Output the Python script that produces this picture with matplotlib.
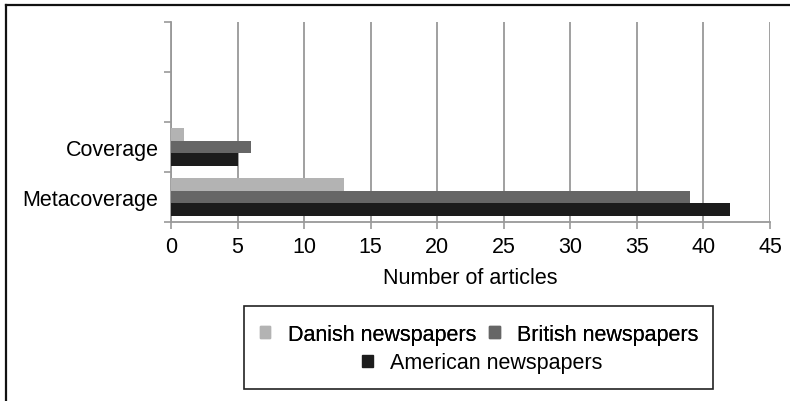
import matplotlib
matplotlib.use('Agg')
import matplotlib.pyplot as plt
from matplotlib.lines import Line2D
from matplotlib.patches import Rectangle, Patch

categories = ['Metacoverage', 'Coverage']
danish = [13, 1]
british = [39, 6]
american = [42, 5]
series_names = ['Danish newspapers', 'British newspapers', 'American newspapers']
colors = ['#b3b3b3', '#666666', '#1c1c1c']
x_ticks = list(range(0, 50, 5))

plt.rcParams['font.family'] = ['Liberation Sans', 'DejaVu Sans']
plt.rcParams['font.size'] = 15.5


def main():
    fig = plt.figure(figsize=(7.9, 4.02), dpi=100)
    ax = fig.add_axes([171 / 790, 1 - 223 / 402, (770 - 171) / 790, 200 / 402])

    bh = 0.25
    for i, vals in enumerate([danish, british, american]):
        ys = [k + 0.5 + (1 - i) * bh for k in range(len(categories))]
        ax.barh(ys, vals, height=bh, color=colors[i], label=series_names[i], zorder=3)

    ax.set_xlim(0, 45)
    ax.set_ylim(0, 4)
    ax.set_xticks(x_ticks)
    ax.set_yticks([0, 1, 2, 3, 4])
    ax.set_yticklabels([])
    ax.set_yticks([k + 0.5 for k in range(len(categories))], minor=True)
    ax.set_yticklabels(categories, minor=True)
    ax.tick_params(axis='y', which='minor', length=0, pad=14)
    ax.tick_params(axis='y', which='minor', pad=9)
    ax.tick_params(axis='y', which='major', length=5, width=1.2, color='#999999')
    ax.tick_params(axis='x', length=5, width=1.2, color='#999999', pad=5)
    ax.grid(axis='x', color='#999999', linewidth=1.3, zorder=0)
    for s in ['top', 'right']:
        ax.spines[s].set_visible(False)
    for s in ['left', 'bottom']:
        ax.spines[s].set_color('#999999')
        ax.spines[s].set_linewidth(1.3)
    ax.set_xlabel('Number of articles', labelpad=7)

    # legend: box plus two centred rows
    handles = [Patch(color=c) for c in colors]
    fig.patches.append(Rectangle((244 / 790, 1 - 390 / 402), (713 - 244) / 790, 83 / 402,
                                 transform=fig.transFigure, fill=False,
                                 edgecolor='#222222', linewidth=1.2))
    kw = dict(frameon=False, handlelength=0.5, handleheight=0.5, handletextpad=0.8,
              columnspacing=0.6, loc='center', borderpad=0, fontsize=15.5)
    leg1 = fig.legend(handles[:2], series_names[:2], ncol=2,
                      bbox_to_anchor=(479 / 790, 1 - 335 / 402), **kw)
    fig.add_artist(leg1)
    fig.legend(handles[2:], series_names[2:], ncol=1,
               bbox_to_anchor=(482 / 790, 1 - 364 / 402), **kw)

    # outer frame (top and left edges visible)
    fig.add_artist(Line2D([6 / 790, 6 / 790], [0, 1 - 6 / 402], color='#111111', linewidth=1.6))
    fig.add_artist(Line2D([6 / 790, 1], [1 - 6 / 402, 1 - 6 / 402], color='#111111', linewidth=1.6))

    fig.savefig('out.png', dpi=100)


if __name__ == '__main__':
    main()
